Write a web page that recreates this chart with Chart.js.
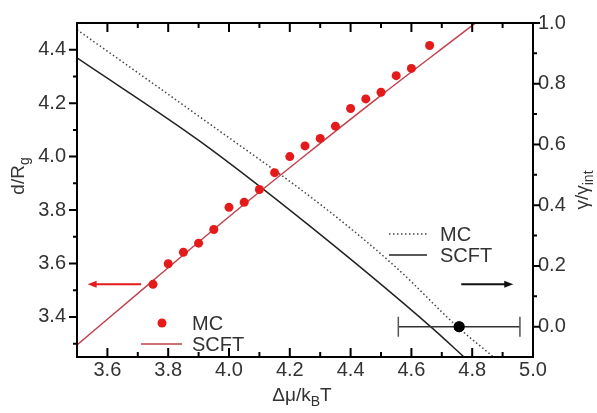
<!DOCTYPE html>
<html><head><meta charset="utf-8">
<script src="https://cdn.jsdelivr.net/npm/chart.js@4"></script>
<style>html,body{margin:0;padding:0;background:#fff}canvas{display:block}</style>
</head><body>
<canvas id="c" width="597" height="413"></canvas>
<script>
// ---- data ----
const mcX = [3.75,3.80,3.85,3.90,3.95,4.00,4.05,4.10,4.15,4.20,4.25,4.30,4.35,4.40,4.45,4.50,4.55,4.60,4.66];
const mcD = [3.522,3.599,3.642,3.676,3.727,3.810,3.829,3.877,3.940,4.000,4.040,4.068,4.114,4.180,4.216,4.241,4.303,4.330,4.416];
const scftX = [3.50,3.75,4.00,4.25,4.50,4.75,4.85];
const scftD = [3.295,3.536,3.775,4.004,4.229,4.447,4.534];
const gMcX = [3.50,3.905,4.323,4.553,4.751,4.87];
const gMcY = [0.978,0.690,0.385,0.192,0.0,-0.10];
const gScftX = [3.50,3.905,4.256,4.663,4.773];
const gScftY = [0.885,0.610,0.339,0.0,-0.10];
const transX = [4.757];
const transY = [0.0];
const transErr = [0.2];
const xTicks = [3.6,3.8,4.0,4.2,4.4,4.6,4.8,5.0];
const leftTicks = [3.4,3.6,3.8,4.0,4.2,4.4];
const rightTicks = [0.0,0.2,0.4,0.6,0.8,1.0];
const legendLeft = ['MC','SCFT'];
const legendRight = ['MC','SCFT'];

const pts = (xs, ys) => xs.map((x,i)=>({x, y: ys[i]}));
const FONT = 'Liberation Sans, Arial, sans-serif';
const TXT = '#333';
const RED = '#e51a1a';
const REDLINE = '#c0424c';

function drawRich(ctx, parts, size, subSize, subDy) {
  let w = 0;
  parts.forEach(p => { ctx.font = (p.sub?subSize:size)+'px '+FONT; w += ctx.measureText(p.t).width; });
  let x = -w/2;
  parts.forEach(p => {
    ctx.font = (p.sub?subSize:size)+'px '+FONT;
    ctx.fillText(p.t, x, p.sub?subDy:0);
    x += ctx.measureText(p.t).width;
  });
}

const deco = {
  id: 'deco',
  afterDatasetsDraw(chart) {
    const ctx = chart.ctx, a = chart.chartArea;
    const xs = chart.scales.x, yl = chart.scales.y, yr = chart.scales.y2;
    ctx.save();
    // error bar
    ctx.strokeStyle = '#333'; ctx.lineWidth = 1.5;
    const ey = yr.getPixelForValue(transY[0]);
    const ex0 = xs.getPixelForValue(transX[0]-transErr[0]);
    const ex1 = xs.getPixelForValue(transX[0]+transErr[0]);
    ctx.beginPath(); ctx.moveTo(ex0, ey); ctx.lineTo(ex1, ey); ctx.stroke();
    ctx.strokeStyle = '#555';
    ctx.beginPath(); ctx.moveTo(ex0, ey-10); ctx.lineTo(ex0, ey+10);
    ctx.moveTo(ex1, ey-10); ctx.lineTo(ex1, ey+10); ctx.stroke();
    // redraw the transition dot on top
    ctx.fillStyle = '#000';
    ctx.beginPath(); ctx.arc(xs.getPixelForValue(transX[0]), ey, 5.5, 0, Math.PI*2); ctx.fill();

    // frame
    ctx.strokeStyle = '#000'; ctx.lineWidth = 2;
    ctx.strokeRect(a.left, a.top, a.right-a.left, a.bottom-a.top);
    // ticks
    ctx.lineWidth = 2;
    ctx.beginPath();
    for (let k = 0; k <= 15; k++) {
      const v = 3.5 + k*0.1;
      const p = xs.getPixelForValue(v);
      const major = xTicks.some(t => Math.abs(t-v) < 1e-6);
      const L = major ? 9 : 5;
      ctx.moveTo(p, a.bottom); ctx.lineTo(p, a.bottom - L);
      ctx.moveTo(p, a.top); ctx.lineTo(p, a.top + L);
    }
    for (let k = 0; k <= 11; k++) {
      const v = 3.3 + k*0.1;
      const p = yl.getPixelForValue(v);
      const major = leftTicks.some(t => Math.abs(t-v) < 1e-6);
      const L = major ? 8 : 4;
      ctx.moveTo(a.left, p); ctx.lineTo(a.left - L, p);
    }
    for (let k = 0; k <= 10; k++) {
      const v = k*0.1 - 0.0;
      const p = yr.getPixelForValue(v);
      const major = rightTicks.some(t => Math.abs(t-v) < 1e-6);
      const L = major ? 7 : 4;
      ctx.moveTo(a.right, p); ctx.lineTo(a.right + L, p);
    }
    ctx.stroke();

    // arrows
    function arrow(x0, x1, y, color) {
      ctx.strokeStyle = color; ctx.fillStyle = color; ctx.lineWidth = 2;
      const dir = Math.sign(x1 - x0);
      ctx.beginPath(); ctx.moveTo(x0, y); ctx.lineTo(x1 - dir*6, y); ctx.stroke();
      ctx.beginPath(); ctx.moveTo(x1, y); ctx.lineTo(x1 - dir*9, y-3.5); ctx.lineTo(x1 - dir*9, y+3.5); ctx.closePath(); ctx.fill();
    }
    arrow(xs.getPixelForValue(3.711), xs.getPixelForValue(3.535), yl.getPixelForValue(3.522), RED);
    arrow(xs.getPixelForValue(4.764), xs.getPixelForValue(4.935), yr.getPixelForValue(0.14), '#111');

    // legends
    ctx.font = '20px ' + FONT; ctx.textBaseline = 'middle'; ctx.textAlign = 'left';
    const L1x = a.left + 64, L1y = a.top + 300;
    ctx.fillStyle = RED;
    ctx.beginPath(); ctx.arc(L1x + 21, L1y, 4.5, 0, Math.PI*2); ctx.fill();
    ctx.strokeStyle = REDLINE; ctx.lineWidth = 1.5;
    ctx.beginPath(); ctx.moveTo(L1x, L1y + 21); ctx.lineTo(L1x + 41, L1y + 21); ctx.stroke();
    ctx.fillStyle = TXT;
    ctx.fillText(legendLeft[0], L1x + 51, L1y + 1);
    ctx.fillText(legendLeft[1], L1x + 51, L1y + 22);

    const L2x = a.left + 312, L2y = a.top + 211;
    ctx.strokeStyle = '#444'; ctx.setLineDash([1.5, 2.5]);
    ctx.beginPath(); ctx.moveTo(L2x, L2y); ctx.lineTo(L2x + 38, L2y); ctx.stroke();
    ctx.setLineDash([]); ctx.strokeStyle = '#222';
    ctx.beginPath(); ctx.moveTo(L2x, L2y + 21); ctx.lineTo(L2x + 38, L2y + 21); ctx.stroke();
    ctx.fillStyle = TXT;
    ctx.fillText(legendRight[0], L2x + 51, L2y + 1);
    ctx.fillText(legendRight[1], L2x + 51, L2y + 22);

    // axis titles
    ctx.textAlign = 'left'; ctx.textBaseline = 'alphabetic'; ctx.fillStyle = TXT;
    ctx.save(); ctx.translate((a.left + a.right)/2 - 3, 401);
    drawRich(ctx, [{t:'\u0394\u03bc/k'},{t:'B',sub:true},{t:'T'}], 19, 14, 5);
    ctx.restore();
    ctx.save(); ctx.translate(23.5, 176); ctx.rotate(-Math.PI/2);
    drawRich(ctx, [{t:'d/R'},{t:'g',sub:true}], 19, 14, 5);
    ctx.restore();
    ctx.save(); ctx.translate(588, 190); ctx.rotate(-Math.PI/2);
    drawRich(ctx, [{t:'\u03b3/\u03b3'},{t:'int',sub:true}], 19, 14, 5);
    ctx.restore();
    ctx.restore();
  }
};

const tickFont = {family: FONT, size: 20};
new Chart(document.getElementById('c'), {
  type: 'scatter',
  data: {
    datasets: [
      { label: 'MC', data: pts(mcX, mcD), yAxisID: 'y', pointRadius: 4.5, pointBorderWidth: 0,
        backgroundColor: RED, borderColor: RED, showLine: false, order: 1 },
      { label: 'SCFT', data: pts(scftX, scftD), yAxisID: 'y', showLine: true, pointRadius: 0,
        borderColor: REDLINE, borderWidth: 1.5, cubicInterpolationMode: 'monotone', clip: 0, order: 2 },
      { label: 'MC gamma', data: pts(gMcX, gMcY), yAxisID: 'y2', showLine: true, pointRadius: 0,
        borderColor: '#444', borderWidth: 1.5, borderDash: [1.5, 2.5], cubicInterpolationMode: 'monotone', clip: 0, order: 3 },
      { label: 'SCFT gamma', data: pts(gScftX, gScftY), yAxisID: 'y2', showLine: true, pointRadius: 0,
        borderColor: '#222', borderWidth: 1.5, cubicInterpolationMode: 'monotone', clip: 0, order: 3 },
      { label: 'transition', data: pts(transX, transY), yAxisID: 'y2', pointRadius: 5.5, pointBorderWidth: 0,
        backgroundColor: '#000', showLine: false, order: 0 }
    ]
  },
  options: {
    responsive: false, animation: false, devicePixelRatio: 1,
    layout: { padding: { top: 11, left: 0, right: 0, bottom: 0 } },
    plugins: { legend: { display: false }, tooltip: { enabled: false } },
    scales: {
      x: { type: 'linear', min: 3.5, max: 5.0,
        afterBuildTicks: s => { s.ticks = xTicks.map(v => ({value: v})); },
        afterFit: s => { s.height = 56; },
        grid: { display: false, drawTicks: false }, border: { display: false },
        ticks: { font: tickFont, color: TXT, padding: 1, maxRotation: 0, autoSkip: false,
          callback: v => Number(v).toFixed(1) } },
      y: { type: 'linear', position: 'left', min: 3.25, max: 4.5,
        afterBuildTicks: s => { s.ticks = leftTicks.map(v => ({value: v})); },
        afterFit: s => { s.width = 77; },
        grid: { display: false, drawTicks: false }, border: { display: false },
        ticks: { font: tickFont, color: TXT, padding: 11, autoSkip: false,
          callback: v => Number(v).toFixed(1) } },
      y2: { type: 'linear', position: 'right', min: -0.1, max: 1.0,
        afterBuildTicks: s => { s.ticks = rightTicks.map(v => ({value: v})); },
        afterFit: s => { s.width = 64; },
        grid: { display: false, drawTicks: false }, border: { display: false },
        ticks: { font: tickFont, color: TXT, padding: 5, autoSkip: false,
          callback: v => Number(v).toFixed(1) } }
    }
  },
  plugins: [deco]
});
</script>
</body></html>
